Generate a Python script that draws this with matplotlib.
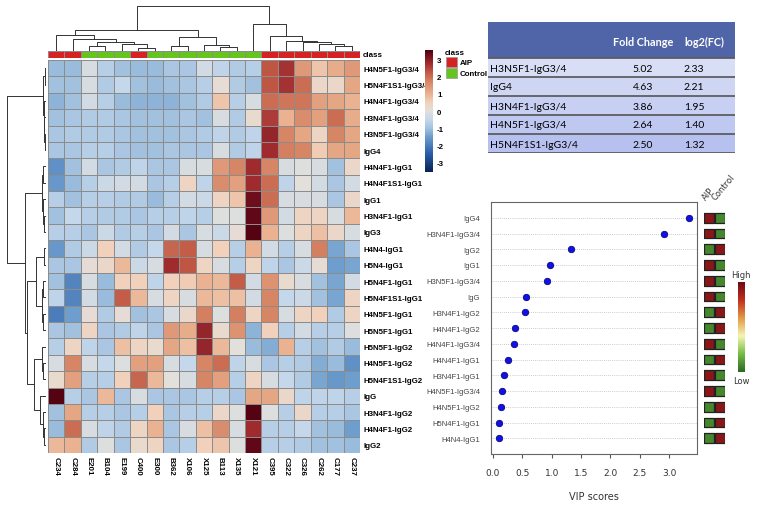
import numpy as np
import matplotlib
matplotlib.use('Agg')
import matplotlib.pyplot as plt
from matplotlib.colors import LinearSegmentedColormap, ListedColormap
from matplotlib.patches import Rectangle

# ---------------- data ----------------
samples = ['C234', 'C284', 'E201', 'B104', 'E199', 'C400', 'E300', 'B362', 'X106', 'X125',
           'B113', 'X135', 'X121', 'C395', 'C322', 'C326', 'C262', 'C177', 'C237']
sample_class = ['AIP', 'AIP', 'Control', 'Control', 'Control', 'AIP', 'Control', 'Control', 'Control',
                'Control', 'Control', 'Control', 'Control', 'AIP', 'AIP', 'AIP', 'AIP', 'AIP', 'AIP']

features = ['H4N5F1-IgG3/4', 'H5N4F1S1-IgG3/4', 'H4N4F1-IgG3/4', 'H3N4F1-IgG3/4', 'H3N5F1-IgG3/4', 'IgG4',
            'H4N4F1-IgG1', 'H4N4F1S1-IgG1', 'IgG1', 'H3N4F1-IgG1', 'IgG3', 'H4N4-IgG1', 'H5N4-IgG1',
            'H5N4F1-IgG1', 'H5N4F1S1-IgG1', 'H4N5F1-IgG1', 'H5N5F1-IgG1', 'H5N5F1-IgG2', 'H4N5F1-IgG2',
            'H5N4F1S1-IgG2', 'IgG', 'H3N4F1-IgG2', 'H4N4F1-IgG2', 'IgG2']

# autoscaled intensities (rows = features, columns = samples)
zscores = [
    [-1.1, -1.1, -0.2, -0.7, -1.0, -1.1, -1.1, -0.9, -0.9, -0.3, -0.6, -0.8, -0.7, 2.3, 2.7, 1.4, 0.7, 1.1, 1.4],
    [-1.0, -1.0, -0.2, -0.8, -0.5, -1.0, -1.1, -1.0, -0.9, -0.7, 0.1, -0.8, -1.0, 2.3, 2.7, 2.0, 0.3, 0.3, 1.2],
    [-1.2, -1.0, -0.3, -0.7, -1.1, -1.2, -1.2, -1.2, -1.0, -0.8, 0.7, -0.7, -0.2, 2.0, 1.9, 1.9, 1.3, 1.2, 1.0],
    [-1.0, -0.9, -0.8, -0.8, -0.9, -1.0, -1.0, -1.0, -0.9, -1.0, -0.2, -0.8, 0.2, 2.6, 1.0, 1.6, 1.3, 2.0, 1.1],
    [-0.9, -0.8, -0.8, -0.8, -0.9, -1.0, -1.0, -1.0, -0.9, -0.8, -0.6, -0.8, -0.6, 2.9, 1.7, 1.2, 0.4, 1.7, 1.2],
    [-0.9, -0.9, -0.7, -0.7, -0.9, -1.0, -1.0, -0.9, -0.9, -0.9, -0.2, -0.8, -0.6, 2.8, 1.8, 1.7, 0.6, 1.2, 1.2],
    [-1.7, -1.0, -0.3, -0.9, -0.8, -0.6, -0.9, -0.9, -0.2, -0.2, 1.4, 1.7, 2.8, 1.7, -0.2, -0.1, -0.2, -1.0, 0.3],
    [-1.6, -1.1, -0.7, -0.4, -0.3, -0.3, -0.9, -0.7, 0.4, -0.6, 1.6, 1.3, 2.8, 2.0, -0.6, 0.0, -0.3, -0.9, -0.3],
    [-0.7, -1.0, -0.7, -0.7, -0.8, -0.8, -1.1, -0.7, -0.3, -0.4, 0.4, 0.7, 3.3, 2.0, -0.2, -0.2, -0.2, -0.9, 0.3],
    [-1.0, -0.5, -0.7, -0.8, -0.8, -0.9, -0.7, -0.7, -0.6, -0.7, -0.1, -0.1, 3.4, 1.4, -0.3, 0.4, 0.4, -0.2, 0.9],
    [-0.7, -0.7, -0.9, -0.4, -0.8, -0.7, -0.9, -0.3, -0.9, -0.2, -0.4, 0.1, 3.5, 1.0, -0.1, 0.4, 0.8, 0.3, -0.2],
    [-1.6, -0.8, -0.4, 0.5, -0.3, -0.8, -0.5, 2.1, 2.2, -0.2, 0.5, -0.7, 1.0, -0.3, -0.7, -0.2, 1.8, -1.4, -0.9],
    [-0.9, -0.9, 0.1, 0.3, 0.9, -0.4, -0.2, 2.8, 2.3, 0.4, -0.2, -0.7, 0.4, -0.6, -0.9, -0.4, 0.1, -1.5, -1.4],
    [-1.0, -1.9, -0.2, -1.1, 0.5, 0.5, -0.6, 0.5, 0.6, 1.0, 0.9, 2.2, -0.3, 1.5, 0.2, -0.2, -1.0, -1.4, -0.3],
    [-0.6, -1.9, -0.3, -1.1, 2.2, 0.9, -0.2, 0.4, -0.2, 0.9, 0.8, 0.8, -0.3, 1.7, -0.5, -0.4, -1.0, -1.4, 0.4],
    [-2.0, -1.5, 0.1, -0.8, 0.1, -1.0, -0.9, -0.2, 0.3, 1.8, -0.1, 1.8, 0.4, 1.7, -0.2, 0.4, 0.5, -0.8, 0.4],
    [-0.9, -1.0, 0.4, -0.9, -0.8, -0.6, -0.9, 1.4, 1.1, 2.9, 0.2, 1.5, -1.2, 0.5, -0.7, -0.3, -0.7, -0.7, -0.1],
    [-0.7, 0.4, -0.6, -0.9, 0.8, 0.4, 0.2, 1.2, 0.8, 2.9, 0.9, 0.0, -1.1, -1.3, 1.0, -0.7, -1.0, -0.8, -1.1],
    [-0.2, 1.7, -0.2, -0.5, -0.1, 1.3, 1.3, -0.2, -0.5, 1.7, 2.0, -0.6, -0.2, -0.9, -0.7, -0.8, -1.3, -1.1, -1.7],
    [0.2, 1.3, -0.7, -0.7, 0.5, 2.1, 0.9, 0.0, -0.2, 1.7, 1.3, -0.7, 0.4, -0.2, -0.5, -0.8, -1.4, -1.6, -1.5],
    [3.5, -0.7, -0.9, 0.9, -0.9, -0.2, -0.9, -0.9, -0.9, -0.7, -0.7, -0.9, 1.2, 1.2, 0.3, -0.6, -0.6, -0.6, -0.7],
    [-1.0, 1.2, -0.7, -0.7, -0.9, -0.7, 0.5, -0.9, -0.7, -0.7, 0.3, -0.1, 3.5, -0.1, -0.7, 0.3, -0.7, -0.7, -0.9],
    [-1.1, 2.0, -0.2, -0.6, -0.8, 0.4, 1.0, -0.9, -0.2, 0.8, 1.6, -0.2, 2.8, -0.7, -0.7, -0.5, -1.0, -1.1, -1.5],
    [0.9, 1.0, -0.8, -0.1, -0.9, 0.2, 0.4, -0.9, -0.7, 0.5, 0.7, -0.1, 3.4, -0.7, -0.7, -0.8, -1.0, -1.0, -1.1],
]

# cluster trees: [left, right, merge height], leaves are row/column indices
col_tree = [[[0, [1, [[2, 3, 5], [4, [5, 6, 3.5], 7], 9.5], 12], 16],
             [[7, 8, 5], [9, [10, 11, 4], 6.5], 14], 21],
            [12, [13, [14, [15, [16, [17, 18, 5], 7.5], 9], 10], 15], 27], 45]
row_tree = [[[0, 1, 1.0], [2, [3, [4, 5, 0.8], 1.5], 2.0], 3.0],
            [[[6, 7, 2.5], [8, [9, 10, 1.5], 3], 4],
             [[[11, 12, 2], [[13, 14, 2.5], [15, 16, 2.5], 4], 10],
              [[17, [18, 19, 2.5], 4], [20, [21, [22, 23, 1.5], 3], 6], 12], 19], 20], 38]

# fold change table
fc_names = ['H3N5F1-IgG3/4', 'IgG4', 'H3N4F1-IgG3/4', 'H4N5F1-IgG3/4', 'H5N4F1S1-IgG3/4']
fold_change = ['5.02', '4.63', '3.86', '2.64', '2.50']
log2_fc = ['2.33', '2.21', '1.95', '1.40', '1.32']

# VIP scores
vip_names = ['IgG4', 'H3N4F1-IgG3/4', 'IgG2', 'IgG1', 'H3N5F1-IgG3/4', 'IgG', 'H3N4F1-IgG2', 'H4N4F1-IgG2',
             'H4N4F1-IgG3/4', 'H4N4F1-IgG1', 'H3N4F1-IgG1', 'H4N5F1-IgG3/4', 'H4N5F1-IgG2', 'H5N4F1-IgG1',
             'H4N4-IgG1']
vip_scores = [3.34, 2.92, 1.33, 0.97, 0.92, 0.56, 0.55, 0.375, 0.35, 0.25, 0.18, 0.15, 0.13, 0.11, 0.10]
aip_high = [1, 1, 0, 1, 1, 1, 0, 0, 1, 0, 1, 1, 0, 0, 0]   # 1 = AIP higher than Control

# ---------------- layout helpers ----------------
W, H = 758, 506


def box(x0, y0, x1, y1):
    return [x0 / W, 1 - y1 / H, (x1 - x0) / W, (y1 - y0) / H]


def tree_segments(node, segs):
    if isinstance(node, int):
        return node + 0.5, 0.0
    left, right, h = node
    pl, hl = tree_segments(left, segs)
    pr, hr = tree_segments(right, segs)
    segs.append(([pl, pl, pr, pr], [hl, h, h, hr]))
    return (pl + pr) / 2, h


lab_font = dict(fontsize=5.7, fontweight='bold', family='Liberation Sans')
fig = plt.figure(figsize=(W / 100, H / 100), dpi=100)

vmin, vmax = -3.55, 3.55
hm_cmap = LinearSegmentedColormap.from_list('hm', [
    (0.0, '#0a2458'), (0.148, '#2a5ea8'), (0.289, '#6f9fce'), (0.359, '#a3c2e0'), (0.43, '#c6d8ea'),
    (0.5, '#e3dfdb'), (0.57, '#f1d2bd'), (0.641, '#eab391'), (0.739, '#d88766'), (0.824, '#bf5643'),
    (0.894, '#a02b2f'), (1.0, '#520012')])
data = np.array(zscores)
nr, nc = data.shape

# heatmap
ax = fig.add_axes(box(48, 61, 360, 454))
ax.pcolormesh(data, cmap=hm_cmap, vmin=vmin, vmax=vmax, edgecolors='#8c8c8c', linewidth=0.6)
ax.set_xlim(0, nc)
ax.set_ylim(nr, 0)
for s in ax.spines.values():
    s.set_visible(False)
ax.yaxis.tick_right()
ax.set_yticks(np.arange(nr) + 0.5)
ax.set_yticklabels(features, **lab_font)
ax.set_xticks(np.arange(nc) + 0.5)
ax.set_xticklabels(samples, rotation=-90, **lab_font)
ax.tick_params(length=0, pad=2.5)

# class bar
class_colors = {'AIP': '#d62222', 'Control': '#66c41e'}
axc = fig.add_axes(box(48, 52, 360, 59))
codes = np.array([[0 if c == 'AIP' else 1 for c in sample_class]])
axc.pcolormesh(codes, cmap=ListedColormap([class_colors['AIP'], class_colors['Control']]), vmin=0, vmax=1,
               edgecolors='#8c8c8c', linewidth=0.6)
axc.set_xlim(0, nc)
axc.axis('off')

# column dendrogram
axd = fig.add_axes(box(48, 5, 360, 52))
segs = []
tree_segments(col_tree, segs)
for xs, ys in segs:
    axd.plot(xs, ys, color='#333333', lw=0.7)
axd.set_xlim(0, nc)
axd.set_ylim(0, 47)
axd.axis('off')

# row dendrogram
axr = fig.add_axes(box(5, 61, 46, 454))
segs = []
tree_segments(row_tree, segs)
for ys, xs in segs:
    axr.plot(xs, ys, color='#333333', lw=0.7)
axr.set_ylim(nr, 0)
axr.set_xlim(40, 0)
axr.axis('off')

# heatmap colorbar
axcb = fig.add_axes(box(425, 51, 433, 173))
grad = np.linspace(vmax, vmin, 200).reshape(-1, 1)
axcb.imshow(grad, cmap=hm_cmap, vmin=vmin, vmax=vmax, aspect='auto', extent=[0, 1, vmin, vmax])
axcb.set_xticks([])
axcb.yaxis.tick_right()
axcb.set_yticks([-3, -2, -1, 0, 1, 2, 3])
axcb.set_yticklabels(['-3', '-2', '-1', '0', '1', '2', '3'], **lab_font)
axcb.tick_params(length=0, pad=3)
for s in axcb.spines.values():
    s.set_visible(False)

# fold change table
axt = fig.add_axes(box(488, 23, 735, 154))
axt.set_xlim(0, 247)
axt.set_ylim(131, 0)
axt.axis('off')
axt.add_patch(Rectangle((0, 0), 247, 36, color='#5064a8'))
axt.text(155, 19, 'Fold Change', color='white', fontsize=7.8, fontweight='bold', family='Lato',
         ha='center', va='center')
axt.text(216, 19, 'log2(FC)', color='white', fontsize=7.8, fontweight='bold', family='Lato',
         ha='center', va='center')
row_fill = ['#d8def6', '#cfd6f4', '#c7cff3', '#bfc8f1', '#b7c1f0']
for i, name in enumerate(fc_names):
    y0 = 36 + 19 * i
    axt.add_patch(Rectangle((0, y0), 247, 19, color=row_fill[i]))
    axt.text(2, y0 + 10, name, fontsize=7.5, family='Lato', ha='left', va='center')
    axt.text(155, y0 + 10, fold_change[i], fontsize=7.5, family='Lato', ha='center', va='center')
    axt.text(206, y0 + 10, log2_fc[i], fontsize=7.5, family='Lato', ha='center', va='center')
    axt.plot([0, 247], [y0, y0], color='#555555', lw=1.2)
axt.plot([0, 247], [130.5, 130.5], color='#555555', lw=1.2)

# VIP plot
pos = np.arange(1, len(vip_names) + 1)
axv = fig.add_axes(box(491, 203, 697, 455))
for p in pos:
    axv.axhline(p, color='#bbbbbb', lw=0.6, linestyle=(0, (1, 1.5)), zorder=1)
axv.scatter(vip_scores, pos, s=22, color='#1010ee', edgecolors='#000066', linewidths=0.5, zorder=3)
axv.set_ylim(len(vip_names) + 1, 0)
axv.set_xlim(-0.034, 3.475)
axv.set_yticks(pos)
axv.set_yticklabels(vip_names, fontsize=5.5, color='#444444', family='Liberation Sans')
axv.tick_params(axis='y', length=0, pad=8)
axv.set_xticks([0, 0.5, 1, 1.5, 2, 2.5, 3])
axv.set_xticklabels(['0.0', '0.5', '1.0', '1.5', '2.0', '2.5', '3.0'], fontsize=6.5, color='#333333')
axv.tick_params(axis='x', length=3, pad=7, color='#555555')
axv.set_xlabel('VIP scores', fontsize=7, color='#333333', labelpad=10)
for s in axv.spines.values():
    s.set_color('#666666')
    s.set_linewidth(0.8)

# AIP / Control squares
vip_cmap = LinearSegmentedColormap.from_list('vip', ['#2b6a22', '#78bd45', '#f4f5b4', '#e39a45', '#c0301f',
                                                     '#6e0b16'])
axs = fig.add_axes(box(704, 203, 725, 455))
for i, hi in enumerate(aip_high):
    axs.scatter([0, 1], [pos[i], pos[i]], marker='s', s=48,
                color=[vip_cmap(0.93 if hi else 0.07), vip_cmap(0.07 if hi else 0.93)],
                edgecolors='#222222', linewidths=0.9)
axs.set_xlim(-0.5, 1.5)
axs.set_ylim(len(vip_names) + 1, 0)
axs.axis('off')

# VIP colour key
axk = fig.add_axes(box(738, 283, 745, 373))
axk.imshow(np.linspace(1, 0, 200).reshape(-1, 1), cmap=vip_cmap, aspect='auto')
axk.axis('off')

# overlay for free text / legend
ov = fig.add_axes([0, 0, 1, 1])
ov.set_xlim(0, W)
ov.set_ylim(H, 0)
ov.axis('off')
ov.text(363, 55.5, 'class', va='center', **lab_font)
ov.text(445, 53, 'class', va='center', **lab_font)
ov.add_patch(Rectangle((446, 58), 11, 10, facecolor=class_colors['AIP'], edgecolor='#999999', lw=0.5))
ov.add_patch(Rectangle((446, 69), 11, 10, facecolor=class_colors['Control'], edgecolor='#999999', lw=0.5))
ov.text(460, 63, 'AIP', va='center', **lab_font)
ov.text(460, 74, 'Control', va='center', **lab_font)
ov.text(707, 202, 'AIP', fontsize=6, color='#333333', rotation=50, rotation_mode='anchor',
        ha='left', va='bottom')
ov.text(717, 202, 'Control', fontsize=6, color='#333333', rotation=50, rotation_mode='anchor',
        ha='left', va='bottom')
ov.text(741, 276, 'High', fontsize=6, color='#333333', ha='center', va='center')
ov.text(741, 382, 'Low', fontsize=6, color='#333333', ha='center', va='center')

fig.savefig('out.png', dpi=100)
